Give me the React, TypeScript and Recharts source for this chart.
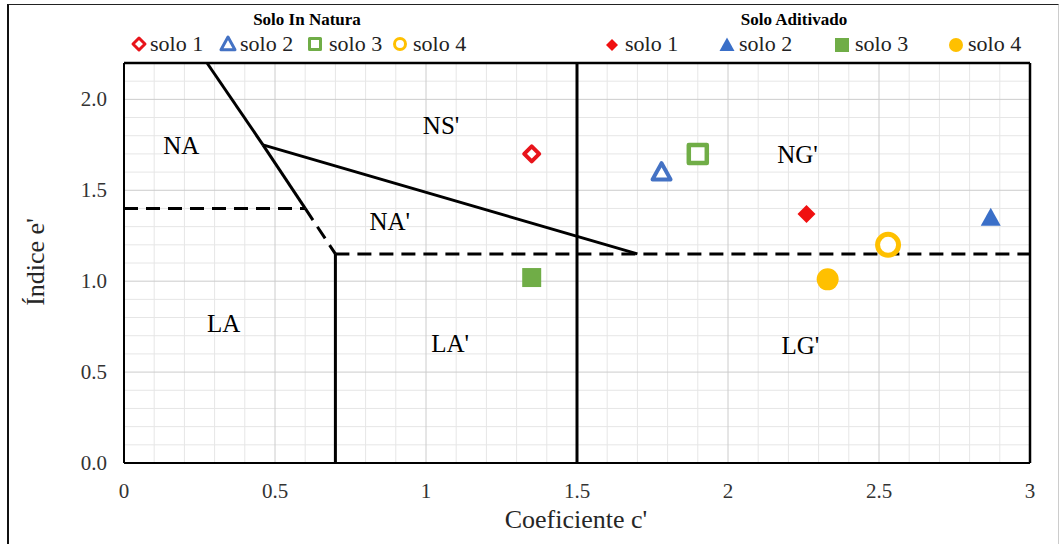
import React from 'react';
import { ScatterChart, Scatter, XAxis, YAxis, ReferenceLine } from 'recharts';

// ---------- data ----------
const seriesNames = ['solo 1', 'solo 2', 'solo 3', 'solo 4'];
const markerKinds = ['diamond', 'triangle', 'square', 'circle'];
const seriesColors = ['#E8141B', '#4472C4', '#70AD47', '#FFC000'];
const filledColors = ['#F01010', '#3A6FC8', '#70AD47', '#FFC000'];

// Solo In Natura (hollow markers)
const naturaX = [1.35, 1.78, 1.9, 2.53];
const naturaY = [1.7, 1.6, 1.7, 1.2];
// Solo Aditivado (filled markers)
const aditivadoX = [2.26, 2.87, 1.35, 2.33];
const aditivadoY = [1.37, 1.35, 1.02, 1.01];

const xTicks = [0, 0.5, 1, 1.5, 2, 2.5, 3];
const yTicks = [0, 0.5, 1, 1.5, 2];
const xMinor = [0.1, 0.2, 0.3, 0.4, 0.6, 0.7, 0.8, 0.9, 1.1, 1.2, 1.3, 1.4, 1.6, 1.7, 1.8, 1.9, 2.1, 2.2, 2.3, 2.4, 2.6, 2.7, 2.8, 2.9];
const yMinor = [0.1, 0.2, 0.3, 0.4, 0.6, 0.7, 0.8, 0.9, 1.1, 1.2, 1.3, 1.4, 1.6, 1.7, 1.8, 1.9, 2.1];

const regionLabels = [
  { x: 0.19, y: 1.75, label: 'NA' },
  { x: 1.05, y: 1.86, label: "NS'" },
  { x: 2.23, y: 1.7, label: "NG'" },
  { x: 0.88, y: 1.33, label: "NA'" },
  { x: 0.33, y: 0.77, label: 'LA' },
  { x: 1.08, y: 0.66, label: "LA'" },
  { x: 2.24, y: 0.65, label: "LG'" },
];

const solidBoundaries = [
  [{ x: 0.275, y: 2.2 }, { x: 0.46, y: 1.75 }],
  [{ x: 0.46, y: 1.75 }, { x: 0.6, y: 1.4 }],
  [{ x: 0.46, y: 1.75 }, { x: 1.7, y: 1.15 }],
  [{ x: 0.7, y: 0 }, { x: 0.7, y: 1.15 }],
  [{ x: 1.5, y: 0 }, { x: 1.5, y: 2.2 }],
];
const dashedBoundaries = [
  [{ x: 0, y: 1.4 }, { x: 0.6, y: 1.4 }],
  [{ x: 0.6, y: 1.4 }, { x: 0.7, y: 1.15 }],
  [{ x: 0.7, y: 1.15 }, { x: 3, y: 1.15 }],
];

const X_DOMAIN = [0, 3];
const Y_DOMAIN = [0, 2.2];

const FONT = 'Liberation Serif, Times New Roman, serif';

// ---------- marker drawing ----------
function markerPath(kind: string, cx: number, cy: number, s: number) {
  if (kind === 'diamond') {
    return `M${cx},${cy - s} L${cx + s},${cy} L${cx},${cy + s} L${cx - s},${cy} Z`;
  }
  if (kind === 'triangle') {
    const h = s * 1.8;
    return `M${cx},${cy - h * 0.55} L${cx + s},${cy + h * 0.45} L${cx - s},${cy + h * 0.45} Z`;
  }
  if (kind === 'square') {
    return `M${cx - s},${cy - s} L${cx + s},${cy - s} L${cx + s},${cy + s} L${cx - s},${cy + s} Z`;
  }
  return '';
}

function Marker(props: { kind: string; cx: number; cy: number; s: number; color: string; hollow: boolean; sw: number }) {
  const { kind, cx, cy, s, color, hollow, sw } = props;
  const fill = hollow ? '#FFFFFF' : color;
  const stroke = hollow ? color : 'none';
  if (kind === 'circle') {
    return <circle cx={cx} cy={cy} r={s} fill={fill} stroke={stroke} strokeWidth={hollow ? sw : 0} />;
  }
  return (
    <path
      d={markerPath(kind, cx, cy, s)}
      fill={fill}
      stroke={stroke}
      strokeWidth={hollow ? sw : 0}
      strokeLinejoin="round"
    />
  );
}

const hollowSize: Record<string, number> = { diamond: 7.5, triangle: 9, square: 9, circle: 10.5 };
const hollowStroke: Record<string, number> = { diamond: 4, triangle: 4, square: 4.5, circle: 5 };
const filledSize: Record<string, number> = { diamond: 9, triangle: 10, square: 9.5, circle: 11 };

const naturaData = naturaX.map((x, i) => ({ x, y: naturaY[i] }));
const aditivadoData = aditivadoX.map((x, i) => ({ x, y: aditivadoY[i] }));

function XTick(p: any) {
  return (
    <text x={p.x} y={p.y + 16} textAnchor="middle" fontSize={21} fontFamily={FONT} fill="#333">
      {String(p.payload.value)}
    </text>
  );
}
function YTick(p: any) {
  return (
    <text x={p.x} y={p.y + 7} textAnchor="end" fontSize={21} fontFamily={FONT} fill="#333">
      {Number(p.payload.value).toFixed(1)}
    </text>
  );
}

export default function App() {
  return (
    <div
      style={{
        position: 'absolute',
        left: 0,
        top: 0,
        width: 1064,
        height: 544,
        overflow: 'hidden',
        background: '#fff',
        fontFamily: FONT,
      }}
    >
      <div
        style={{
          position: 'absolute',
          left: 7,
          top: 4,
          width: 1052,
          height: 545,
          borderLeft: '2px solid #111',
          borderTop: '1.5px solid #222',
          borderRight: '1px solid #ccc',
          boxSizing: 'border-box',
        }}
      />
      <div style={{ position: 'absolute', left: 0, top: 0 }}>
        <ScatterChart
          width={1064}
          height={544}
          margin={{ top: 63, right: 34, bottom: 41, left: 64 }}
          style={{ fontFamily: FONT }}
        >
          <XAxis
            type="number"
            dataKey="x"
            domain={X_DOMAIN}
            ticks={xTicks}
            allowDataOverflow
            height={40}
            tickLine={false}
            axisLine={{ stroke: '#000', strokeWidth: 2 }}
            tickMargin={13}
            tick={<XTick />}
          />
          <YAxis
            type="number"
            dataKey="y"
            domain={Y_DOMAIN}
            ticks={yTicks}
            allowDataOverflow
            width={60}
            tickLine={false}
            axisLine={{ stroke: '#000', strokeWidth: 2 }}
            tickMargin={11}
            tick={<YTick />}
          />
          {xMinor.map((v) => (
            <ReferenceLine key={'xm' + v} x={v} stroke="#E6E6E6" strokeWidth={1} />
          ))}
          {yMinor.map((v) => (
            <ReferenceLine key={'ym' + v} y={v} stroke="#E6E6E6" strokeWidth={1} />
          ))}
          {xTicks.slice(1, -1).map((v) => (
            <ReferenceLine key={'xM' + v} x={v} stroke="#CCCCCC" strokeWidth={1} />
          ))}
          {yTicks.slice(1).map((v) => (
            <ReferenceLine key={'yM' + v} y={v} stroke="#CCCCCC" strokeWidth={1} />
          ))}
          <ReferenceLine x={X_DOMAIN[1]} stroke="#000" strokeWidth={2.5} />
          <ReferenceLine y={Y_DOMAIN[1]} stroke="#000" strokeWidth={2.5} />
          {solidBoundaries.map((seg, i) => (
            <ReferenceLine key={'s' + i} segment={seg} stroke="#000" strokeWidth={3} />
          ))}
          {dashedBoundaries.map((seg, i) => (
            <ReferenceLine key={'d' + i} segment={seg} stroke="#000" strokeWidth={3} strokeDasharray="14 8" />
          ))}
          <Scatter
            name="regions"
            data={regionLabels}
            isAnimationActive={false}
            shape={(p: any) => (
              <text
                x={p.cx}
                y={p.cy + 9}
                textAnchor="middle"
                fontSize={25}
                fontFamily={FONT}
                fill="#000"
              >
                {p.payload.label}
              </text>
            )}
          />
          {naturaData.map((d, i) => (
            <Scatter
              key={'n' + i}
              name={'In Natura ' + seriesNames[i]}
              data={[d]}
              isAnimationActive={false}
              shape={(p: any) => (
                <Marker
                  kind={markerKinds[i]}
                  cx={p.cx}
                  cy={p.cy}
                  s={hollowSize[markerKinds[i]]}
                  sw={hollowStroke[markerKinds[i]]}
                  color={seriesColors[i]}
                  hollow
                />
              )}
            />
          ))}
          {aditivadoData.map((d, i) => (
            <Scatter
              key={'a' + i}
              name={'Aditivado ' + seriesNames[i]}
              data={[d]}
              isAnimationActive={false}
              shape={(p: any) => (
                <Marker
                  kind={markerKinds[i]}
                  cx={p.cx}
                  cy={p.cy}
                  s={filledSize[markerKinds[i]]}
                  sw={0}
                  color={filledColors[i]}
                  hollow={false}
                />
              )}
            />
          ))}
        </ScatterChart>
      </div>
      <svg
        width={1064}
        height={544}
        style={{ position: 'absolute', left: 0, top: 0, pointerEvents: 'none', fontFamily: FONT }}
      >
        <text x={307} y={25} textAnchor="middle" fontSize={17} fontWeight="bold" fill="#000" fontFamily={FONT}>
          Solo In Natura
        </text>
        <text x={794} y={25} textAnchor="middle" fontSize={17} fontWeight="bold" fill="#000" fontFamily={FONT}>
          Solo Aditivado
        </text>
        {seriesNames.map((n, i) => {
          const mx = [139, 228, 315, 400][i];
          const tx = [150, 240, 329, 413][i];
          const k = markerKinds[i];
          const s = { diamond: 6, triangle: 7, square: 5.5, circle: 5.5 }[k] as number;
          return (
            <g key={'ln' + i}>
              <Marker kind={k} cx={mx} cy={44} s={s} sw={3} color={seriesColors[i]} hollow />
              <text x={tx} y={51} fontSize={22} fill="#222" fontFamily={FONT}>
                {n}
              </text>
            </g>
          );
        })}
        {seriesNames.map((n, i) => {
          const mx = [612, 727, 842, 956][i];
          const tx = [625, 739, 855, 968][i];
          const k = markerKinds[i];
          const s = { diamond: 6, triangle: 7.5, square: 7, circle: 7 }[k] as number;
          return (
            <g key={'la' + i}>
              <Marker kind={k} cx={mx} cy={45} s={s} sw={0} color={filledColors[i]} hollow={false} />
              <text x={tx} y={51} fontSize={22} fill="#222" fontFamily={FONT}>
                {n}
              </text>
            </g>
          );
        })}
        <text x={576} y={528} textAnchor="middle" fontSize={26} fill="#262626" fontFamily={FONT}>
          Coeficiente c'
        </text>
        <text
          x={0}
          y={0}
          transform="translate(44,262) rotate(-90)"
          textAnchor="middle"
          fontSize={26}
          fill="#262626"
          fontFamily={FONT}
        >
          Índice e'
        </text>
      </svg>
    </div>
  );
}
